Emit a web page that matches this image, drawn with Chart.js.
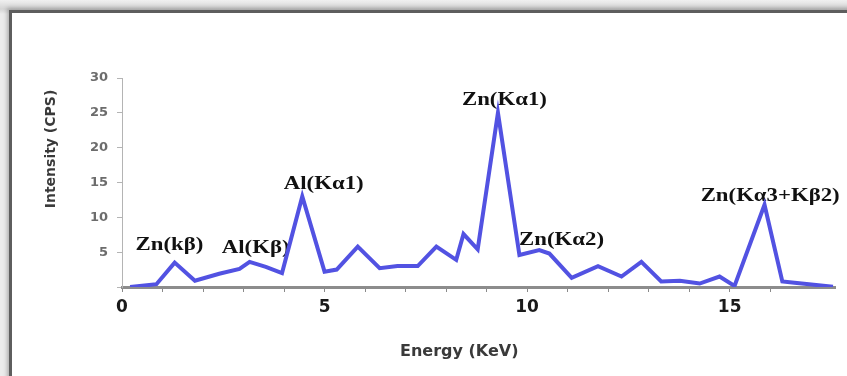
<!DOCTYPE html>
<html>
<head>
<meta charset="utf-8">
<script src="https://cdn.jsdelivr.net/npm/chart.js@4.4.1/dist/chart.umd.min.js"></script>
<style>
  html, body { margin: 0; padding: 0; }
  body {
    width: 847px; height: 376px; overflow: hidden; position: relative;
    background: linear-gradient(#f0f0f0, #d4d4d4 9px, #ececec 14px);
  }
  #frame {
    position: absolute; left: 9px; top: 10px; width: 860px; height: 380px;
    background: #ffffff;
    border-left: 3px solid #5e5e5e; border-top: 3px solid #5e5e5e;
    box-shadow: -2px -2px 4px rgba(0,0,0,0.25);
  }
  #chart { position: absolute; left: 0; top: 0; }
</style>
</head>
<body>
<div id="frame"></div>
<canvas id="chart" width="847" height="376"></canvas>
<script>
// EDX spectrum of the Al-doped ZnO sample
const energyKeV = [0.2, 0.85, 1.3, 1.8, 2.4, 2.9, 3.15, 3.55, 3.95, 4.45, 5.0, 5.3, 5.82, 6.36, 6.8, 7.3,
  7.76, 8.25, 8.43, 8.78, 9.28, 9.81, 10.3, 10.55, 11.1, 11.75, 12.33, 12.82, 13.31, 13.77, 14.26,
  14.75, 15.12, 15.86, 16.3, 16.6, 17.55];
const intensityCPS = [0, 0.4, 3.5, 0.9, 1.9, 2.6, 3.6, 2.9, 2.0, 13.0, 2.2, 2.5, 5.8, 2.7, 3.0, 3.0,
  5.8, 3.9, 7.6, 5.4, 25.0, 4.6, 5.3, 4.8, 1.3, 3.0, 1.5, 3.6, 0.8, 0.9, 0.5,
  1.5, 0.15, 11.8, 0.8, 0.6, 0.05];

// x ticks every 1 keV, labelled every 5 keV
const xLabelledTicks = [0, 5, 10, 15];
const yTickLabels = ['5', '10', '15', '20', '25', '30'];

// peak identifications and where their names sit (energy, intensity)
const peakNames = ['Zn(kβ)', 'Al(Kβ)', 'Al(Kα1)', 'Zn(Kα1)', 'Zn(Kα2)', 'Zn(Kα3+Kβ2)'];
const peakNameEnergy = [1.17, 3.3, 4.98, 9.44, 10.85, 16.0];
const peakNameIntensity = [6.0, 5.6, 14.8, 26.8, 6.8, 13.1];

const axisTitleX = 'Energy (KeV)';
const axisTitleY = 'Intensity (CPS)';

Chart.defaults.font.family = 'DejaVu Sans';

// peak names go under the spectrum line
const peakLabelPlugin = {
  id: 'peakLabels',
  beforeDatasetsDraw(chart) {
    const ctx = chart.ctx;
    const xs = chart.scales.x, ys = chart.scales.y;
    ctx.save();
    ctx.fillStyle = '#111111';
    ctx.font = 'bold 19px "Liberation Serif", "Times New Roman", serif';
    ctx.textAlign = 'center';
    ctx.textBaseline = 'middle';
    peakNames.forEach((name, i) => {
      const px = xs.getPixelForValue(peakNameEnergy[i]);
      const py = ys.getPixelForValue(peakNameIntensity[i]);
      ctx.save();
      ctx.translate(px, py);
      ctx.scale(1.2, 1);
      ctx.fillText(name, 0, 0);
      ctx.restore();
    });
    ctx.restore();
  }
};

const axisTitlePlugin = {
  id: 'axisTitles',
  afterDraw(chart) {
    const ctx = chart.ctx;
    const area = chart.chartArea;
    ctx.save();
    ctx.fillStyle = '#3a3a3a';
    ctx.textAlign = 'center';
    ctx.textBaseline = 'middle';
    ctx.font = 'bold 16px "DejaVu Sans"';
    ctx.fillText(axisTitleX, area.left + (area.right - area.left) * 0.473, area.bottom + 65);
    ctx.translate(area.left - 71, area.top + 71);
    ctx.rotate(-Math.PI / 2);
    ctx.font = 'bold 14px "DejaVu Sans"';
    ctx.fillText(axisTitleY, 0, 0);
    ctx.restore();
  }
};

new Chart(document.getElementById('chart'), {
  type: 'line',
  data: {
    datasets: [{
      data: energyKeV.map((e, i) => ({ x: e, y: intensityCPS[i] })),
      borderColor: '#5252e2',
      borderWidth: 4,
      pointRadius: 0,
      tension: 0,
      fill: false
    }]
  },
  options: {
    responsive: false,
    animation: false,
    layout: { padding: { left: 0, top: 78, right: 12, bottom: 0 } },
    plugins: { legend: { display: false }, tooltip: { enabled: false } },
    scales: {
      x: {
        type: 'linear',
        min: 0,
        max: 17.6,
        afterFit(scale) { scale.height = 89; },
        border: { display: true, color: '#8c8c8c', width: 3 },
        grid: { drawOnChartArea: false, drawTicks: true, tickLength: 5, color: '#8a8a8a', lineWidth: 1 },
        ticks: {
          stepSize: 1,
          autoSkip: false,
          maxRotation: 0,
          padding: 5,
          color: '#1a1a1a',
          font: { size: 17, weight: 'bold' },
          callback(v) {
            if (!Number.isInteger(v)) return null;
            return xLabelledTicks.includes(v) ? String(v) : '';
          }
        }
      },
      y: {
        min: 0,
        max: 30,
        afterFit(scale) { scale.width = 122; },
        border: { display: true, color: '#b4b4b4', width: 1 },
        grid: { drawOnChartArea: false, drawTicks: true, tickLength: 5, color: '#b4b4b4' },
        ticks: {
          stepSize: 5,
          padding: 9,
          color: '#6c6c6c',
          font: { size: 13, weight: 'bold' },
          callback(v) {
            const s = String(v);
            return yTickLabels.includes(s) ? s : '';
          }
        }
      }
    }
  },
  plugins: [peakLabelPlugin, axisTitlePlugin]
});
</script>
</body>
</html>
